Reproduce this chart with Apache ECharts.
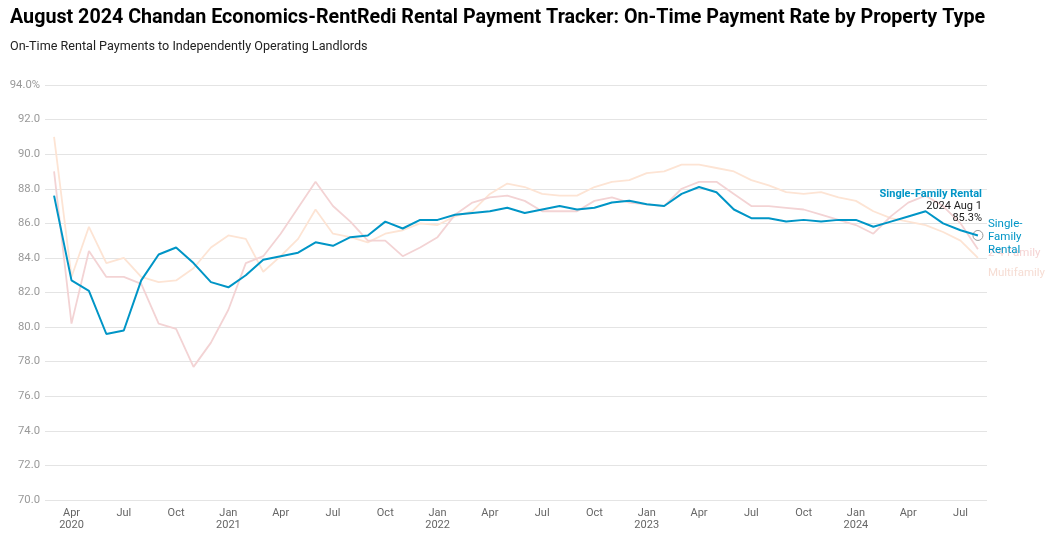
<!DOCTYPE html>
<html>
<head>
<meta charset="utf-8">
<script src="https://cdn.jsdelivr.net/npm/echarts@6/dist/echarts.min.js"></script>
<style>
html,body{margin:0;padding:0;background:#fff;}
#chart{width:1060px;height:542px;}
</style>
</head>
<body>
<div id="chart"></div>
<script>
const months = [
 '2020-03','2020-04','2020-05','2020-06','2020-07','2020-08','2020-09','2020-10','2020-11','2020-12',
 '2021-01','2021-02','2021-03','2021-04','2021-05','2021-06','2021-07','2021-08','2021-09','2021-10','2021-11','2021-12',
 '2022-01','2022-02','2022-03','2022-04','2022-05','2022-06','2022-07','2022-08','2022-09','2022-10','2022-11','2022-12',
 '2023-01','2023-02','2023-03','2023-04','2023-05','2023-06','2023-07','2023-08','2023-09','2023-10','2023-11','2023-12',
 '2024-01','2024-02','2024-03','2024-04','2024-05','2024-06','2024-07','2024-08'
];
const singleFamily = [87.6,82.7,82.1,79.6,79.8,82.7,84.2,84.6,83.7,82.6,
 82.3,83.0,83.9,84.1,84.3,84.9,84.7,85.2,85.3,86.1,85.7,86.2,
 86.2,86.5,86.6,86.7,86.9,86.6,86.8,87.0,86.8,86.9,87.2,87.3,
 87.1,87.0,87.7,88.1,87.8,86.8,86.3,86.3,86.1,86.2,86.1,86.2,
 86.2,85.8,86.1,86.4,86.7,86.0,85.6,85.3];
const twoToFour = [89.0,80.2,84.4,82.9,82.9,82.5,80.2,79.9,77.7,79.1,
 81.0,83.7,84.1,85.4,86.9,88.4,87.0,86.1,85.0,85.0,84.1,84.6,
 85.2,86.5,87.2,87.5,87.6,87.3,86.7,86.7,86.7,87.3,87.5,87.2,
 87.1,87.0,88.0,88.4,88.4,87.7,87.0,87.0,86.9,86.8,86.5,86.2,
 85.9,85.4,86.4,87.2,87.6,87.0,86.0,84.5];
const multifamily = [91.0,82.9,85.8,83.7,84.0,82.9,82.6,82.7,83.4,84.6,
 85.3,85.1,83.2,84.1,85.1,86.8,85.4,85.2,84.9,85.4,85.6,86.0,
 85.9,86.4,86.7,87.7,88.3,88.1,87.7,87.6,87.6,88.1,88.4,88.5,
 88.9,89.0,89.4,89.4,89.2,89.0,88.5,88.2,87.8,87.7,87.8,87.5,
 87.3,86.7,86.3,86.1,85.9,85.5,85.0,84.0];
const monthNames = ['Jan','Feb','Mar','Apr','May','Jun','Jul','Aug','Sep','Oct','Nov','Dec'];
const yTicks = [70,72,74,76,78,80,82,84,86,88,90,92,94];

const tickIdx = [];
months.forEach((m, i) => { const mo = +m.slice(5); if ((mo - 1) % 3 === 0) tickIdx.push(i); });
const firstTick = tickIdx[0];
function xLabel(v) {
  const i = Math.round(v); const m = months[i]; if (!m) return '';
  const y = m.slice(0, 4), mo = +m.slice(5);
  const name = monthNames[mo - 1];
  return (mo === 1 || i === firstTick) ? name + '\n' + y : name;
}
const pairs = arr => arr.map((v, i) => [i, v]);
const last = months.length - 1;
const lastParts = months[last].split('-');

const FONT = 'Roboto, "Noto Sans", sans-serif';
const BLUE = '#0095c6';
const chart = echarts.init(document.getElementById('chart'), null, {renderer: 'canvas'});
chart.setOption({
  animation: false,
  backgroundColor: '#fff',
  textStyle: {fontFamily: FONT},
  title: [
    {text: 'August 2024 Chandan Economics-RentRedi Rental Payment Tracker: On-Time Payment Rate by Property Type',
     left: 10, top: 8, padding: 0, textStyle: {fontSize: 19.7, fontWeight: 'bold', color: '#000', fontFamily: FONT}},
    {text: 'On-Time Rental Payments to Independently Operating Landlords',
     left: 10, top: 40, padding: 0, textStyle: {fontSize: 12.6, fontWeight: 'normal', color: '#222', fontFamily: FONT}}
  ],
  grid: {left: 45, right: 73, top: 85, bottom: 42, containLabel: false},
  xAxis: {
    type: 'value', min: -0.52, max: last + 0.52,
    axisLine: {show: false}, axisTick: {show: false}, splitLine: {show: false},
    axisLabel: {customValues: tickIdx, formatter: xLabel, color: '#666', fontSize: 11, margin: 7, lineHeight: 12, fontFamily: FONT}
  },
  yAxis: {
    type: 'value', min: 70, max: 94, interval: 2,
    axisLine: {show: false}, axisTick: {show: false},
    splitLine: {lineStyle: {color: '#e4e4e4', width: 1}},
    axisLabel: {color: '#999', fontSize: 11.3, margin: 5, fontFamily: FONT,
      formatter: v => v === yTicks[yTicks.length - 1] ? v.toFixed(1) + '%' : v.toFixed(1)}
  },
  series: [
    {name: 'Multifamily', type: 'line', data: pairs(multifamily), symbol: 'none', z: 1,
     lineStyle: {color: '#fde4d4', width: 1.8}, itemStyle: {color: '#fde4d4'},
     endLabel: {show: true, formatter: 'Multifamily', color: '#f6ddd4', fontSize: 11.5, distance: 10, offset: [0, 15], fontFamily: FONT}},
    {name: '2-4 Family', type: 'line', data: pairs(twoToFour), symbol: 'none', z: 2,
     lineStyle: {color: '#f3d3d4', width: 1.8}, itemStyle: {color: '#f3d3d4'},
     endLabel: {show: true, formatter: '2-4 Family', color: '#f5d4d4', fontSize: 11.5, distance: 10, offset: [0, 4], fontFamily: FONT}},
    {name: 'Single-Family Rental', type: 'line', data: pairs(singleFamily), symbol: 'none', z: 5,
     lineStyle: {color: BLUE, width: 2}, itemStyle: {color: BLUE},
     endLabel: {show: true, formatter: 'Single-\nFamily\nRental', color: BLUE, fontSize: 11.5, lineHeight: 13, distance: 10, offset: [0, 2], fontFamily: FONT},
     markPoint: {
       symbol: 'circle', symbolSize: 10,
       itemStyle: {color: 'rgba(255,255,255,0)', borderColor: '#999', borderWidth: 1},
       data: [{coord: [last, singleFamily[last]], value: singleFamily[last]}],
       label: {
         show: true, position: 'top', align: 'right', distance: 6, offset: [4, 0],
         formatter: () => '{a|Single-Family Rental}\n{b|' + lastParts[0] + ' ' + monthNames[+lastParts[1] - 1] + ' 1}\n{b|' + singleFamily[last].toFixed(1) + '%}',
         rich: {
           a: {color: BLUE, fontWeight: 'bold', fontSize: 11, lineHeight: 12, align: 'right', fontFamily: FONT},
           b: {color: '#222', fontSize: 11, lineHeight: 12, align: 'right', fontFamily: FONT}
         }
       }
     }}
  ]
});
</script>
</body>
</html>
